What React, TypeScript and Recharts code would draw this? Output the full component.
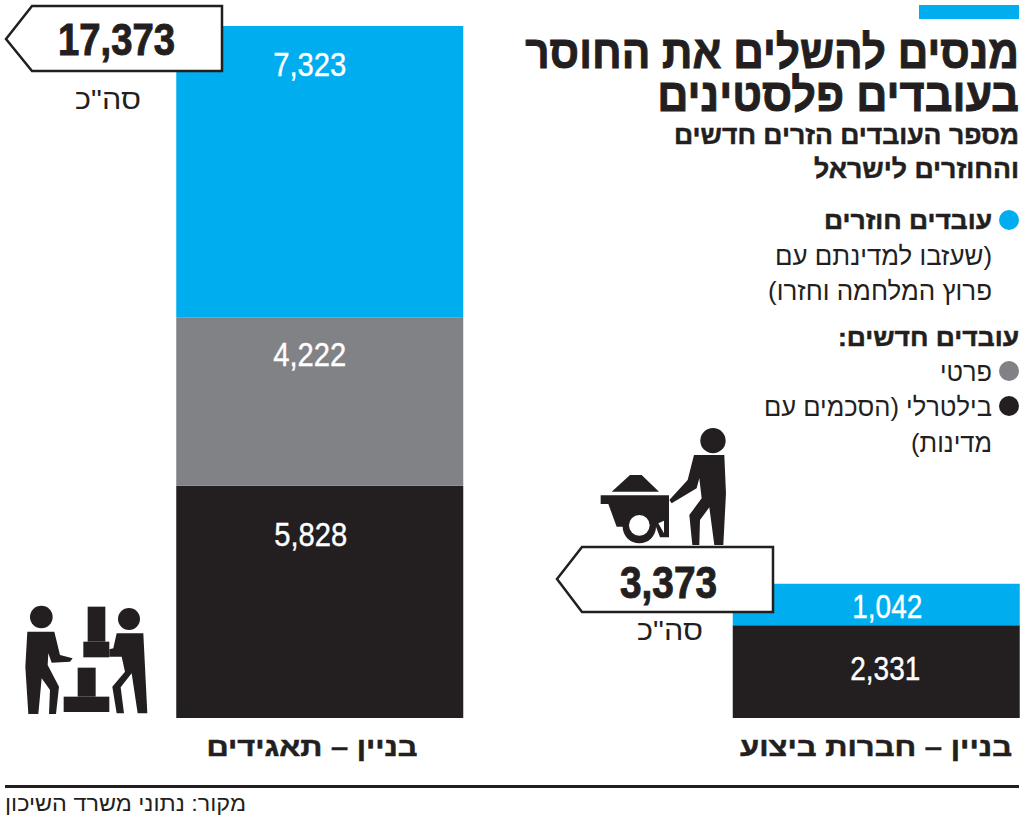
import React from "react";
import { BarChart, Bar, XAxis, YAxis, LabelList } from "recharts";

const categories = ["בניין – תאגידים", "בניין – חברות ביצוע"];
const bilateral = [5828, 2331];
const privateWorkers = [4222, 0];
const returning = [7323, 1042];
const totals = ["17,373", "3,373"];
const totalWord = 'סה"כ';

const BLUE = "#00AEEF";
const GRAY = "#808285";
const BLACK = "#231F20";
const HEB = "'Liberation Sans', 'DejaVu Sans', sans-serif";

const data = categories.map((name, i) => ({
  name,
  bilateral: bilateral[i],
  privateWorkers: privateWorkers[i],
  returning: returning[i],
}));

const valueLabel = (drops: number[], dx: number[]) => (props: any) => {
  const { x, y, width, value, index } = props;
  if (!value) return null;
  return (
    <text
      x={x + width / 2 + dx[index]}
      y={y + drops[index]}
      textAnchor="middle"
      fill="#fff"
      fontFamily={HEB}
      fontSize={33}
      stroke="#fff"
      strokeWidth={0.4}
      textLength={index === 0 ? 73 : 70}
      lengthAdjust="spacingAndGlyphs"
    >
      {Number(value).toLocaleString("en-US")}
    </text>
  );
};

const CategoryTick = (props: any) => {
  const { x, y, payload, index } = props;
  const shift = index === 0 ? -7.5 : 0;
  const len = index === 0 ? 211 : 272;
  return (
    <text
      x={x + shift}
      y={y + 30}
      textAnchor="middle"
      fill={BLACK}
      stroke={BLACK}
      strokeWidth={0.5}
      fontFamily={HEB}
      fontWeight={700}
      fontSize={26}
      direction="rtl"
      textLength={len}
      lengthAdjust="spacingAndGlyphs"
    >
      {payload.value}
    </text>
  );
};

type LineProps = { x: number; y: number; size: number; bold?: boolean; len?: number; weight?: number; children: string };
const Heb = ({ x, y, size, bold, len, weight, children }: LineProps) => (
  <text
    x={x}
    y={y}
    direction="rtl"
    textAnchor="start"
    fontFamily={HEB}
    fontWeight={bold ? 700 : 400}
    fontSize={size}
    fill={BLACK}
    stroke={weight ? BLACK : undefined}
    strokeWidth={weight}
    textLength={len}
    lengthAdjust={len ? "spacingAndGlyphs" : undefined}
  >
    {children}
  </text>
);

const TitleLine = ({ y, sx, children }: { y: number; sx: number; children: string }) => (
  <text
    transform={`translate(1019 ${y}) scale(${sx} 1.07)`}
    direction="rtl"
    textAnchor="start"
    fontFamily={HEB}
    fontWeight={700}
    fontSize={43}
    fill={BLACK}
    stroke={BLACK}
    strokeWidth={0.9}
  >
    {children}
  </text>
);

const Callout = ({ points, label, cx, base, wordX, wordBase, len }: any) => (
  <g>
    <polygon points={points} fill="#fff" stroke={BLACK} strokeWidth={2.5} />
    <text
      x={cx}
      y={base}
      textAnchor="middle"
      fontFamily={HEB}
      fontWeight={700}
      fontSize={44}
      fill={BLACK}
      stroke={BLACK}
      strokeWidth={1}
      textLength={len}
      lengthAdjust="spacingAndGlyphs"
    >
      {label}
    </text>
    <Heb x={wordX} y={wordBase} size={28} len={66}>{totalWord}</Heb>
  </g>
);

export default function App() {
  return (
    <div style={{ position: "absolute", left: 0, top: 0, width: 1024, height: 822, background: "#fff", overflow: "hidden" }}>
      <BarChart
        width={1024}
        height={822}
        data={data}
        margin={{ top: 26, right: 5, bottom: 0, left: 176 }}
        style={{ position: "absolute", left: 0, top: 0 }}
      >
        <XAxis
          dataKey="name"
          scale="point"
          padding={{ left: 143.5, right: 143 }}
          axisLine={false}
          tickLine={false}
          interval={0}
          height={104}
          tick={<CategoryTick />}
        />
        <YAxis hide domain={[0, 17373]} />
        <Bar dataKey="bilateral" stackId="a" fill={BLACK} barSize={287} isAnimationActive={false}>
          <LabelList dataKey="bilateral" content={valueLabel([60, 55], [-9, 9])} />
        </Bar>
        <Bar dataKey="privateWorkers" stackId="a" fill={GRAY} barSize={287} isAnimationActive={false}>
          <LabelList dataKey="privateWorkers" content={valueLabel([48, 0], [-10, 0])} />
        </Bar>
        <Bar dataKey="returning" stackId="a" fill={BLUE} barSize={287} isAnimationActive={false}>
          <LabelList dataKey="returning" content={valueLabel([50, 34], [-10, 11])} />
        </Bar>
      </BarChart>

      <svg width={1024} height={822} style={{ position: "absolute", left: 0, top: 0 }}>
        <rect x={919} y={5} width={100} height={14} fill={BLUE} />
        <TitleLine y={68} sx={0.986}>מנסים להשלים את החוסר</TitleLine>
        <TitleLine y={111} sx={1.006}>בעובדים פלסטינים</TitleLine>
        <Heb x={1019} y={144} size={26} bold len={345} weight={0.5}>מספר העובדים הזרים חדשים</Heb>
        <Heb x={1019} y={178} size={26} bold len={205} weight={0.5}>והחוזרים לישראל</Heb>

        <circle cx={1009} cy={220} r={10} fill={BLUE} />
        <Heb x={992} y={229} size={25} bold len={168} weight={0.5}>עובדים חוזרים</Heb>
        <Heb x={992} y={265} size={26} len={217}>(שעזבו למדינתם עם</Heb>
        <Heb x={992} y={300} size={26} len={224}>פרוץ המלחמה וחזרו)</Heb>
        <Heb x={1019} y={346} size={25} bold len={181} weight={0.5}>עובדים חדשים:</Heb>
        <circle cx={1009} cy={371} r={10} fill={GRAY} />
        <Heb x={992} y={381} size={26} len={52}>פרטי</Heb>
        <circle cx={1009} cy={406} r={10} fill={BLACK} />
        <Heb x={992} y={416} size={26} len={228}>בילטרלי (הסכמים עם</Heb>
        <Heb x={992} y={452} size={26} len={81}>מדינות)</Heb>

        <Callout points="6,39 32,6 222,6 222,71 32,71" label={totals[0]} cx={116.5} base={55} wordX={141} wordBase={109} len={117} />
        <Callout points="557,579 582,547 773,547 773,612 582,612" label={totals[1]} cx={668.5} base={598} wordX={703} wordBase={640} len={97} />

        <rect x={5} y={785} width={1014} height={3} fill={BLACK} />
        <Heb x={246} y={811} size={22} len={241}>מקור: נתוני משרד השיכון</Heb>

        <g transform="translate(550 420) scale(0.3333)" fill={BLACK}>
          <circle cx={489} cy={62} r={38} />
          <path d="M432,105 L523,105 L528,220 L520,375 L493,375 L478,262 L450,300 L448,375 L427,375 L418,285 L455,235 L448,175 L440,205 L365,250 L358,240 L413,180 Z" />
          <path d="M185,215 L240,165 L275,165 L327,215 Z" />
          <path d="M152,226 H357 V352 H330 L318,320 H200 L175,252 H152 Z" />
          <circle cx={268} cy={320} r={50} />
          <circle cx={268} cy={316} r={31} fill="#fff" />
          <path d="M325,310 L342,302 L342,340 Z" fill="#fff" />
        </g>

        <g transform="translate(0 590) scale(0.3333)" fill={BLACK}>
          <circle cx={124} cy={81} r={34} />
          <path d="M82,125 L163,125 L180,195 L218,205 L210,215 L155,218 L145,190 L143,225 L177,290 L168,372 L147,372 L150,300 L125,265 L115,372 L85,372 L76,230 Z" />
          <rect x={263} y={50} width={53} height={105} />
          <rect x={250} y={155} width={78} height={47} />
          <rect x={233} y={233} width={54} height={87} />
          <rect x={191} y={320} width={137} height={46} />
          <circle cx={387} cy={87} r={33} />
          <path d="M350,130 H430 L442,370 H413 L395,250 L362,292 L372,370 H350 L337,290 L375,245 L365,200 H328 V178 L340,175 Z" />
        </g>
      </svg>
    </div>
  );
}
